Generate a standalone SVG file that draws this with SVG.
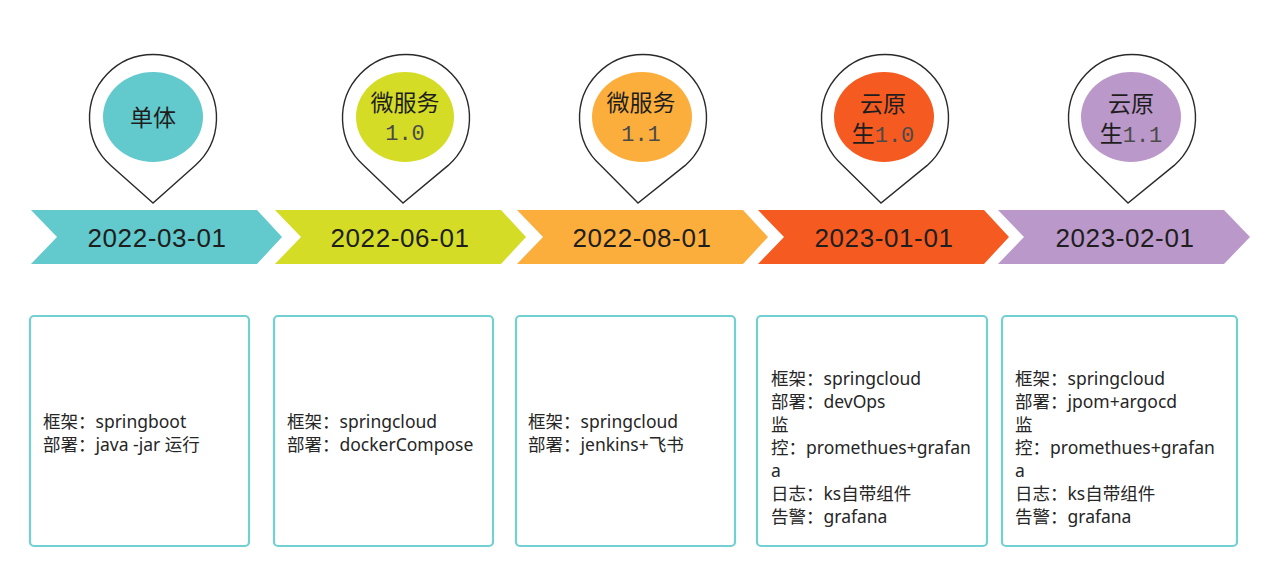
<svg xmlns="http://www.w3.org/2000/svg" width="1280" height="576" viewBox="0 0 1280 576">
<style>
.pin{fill:#fff;stroke:#2a2a2a;stroke-width:1.4}
.date{font-family:"Liberation Sans","Noto Sans",sans-serif;font-size:26px;letter-spacing:0.6px;fill:#1e1e1e;text-anchor:middle}
.lbl{font-family:"Noto Sans CJK SC","Noto Sans",sans-serif;font-size:23px;fill:#1e1e1e;text-anchor:middle}
.mono{font-family:"Liberation Mono",monospace;font-size:22px;fill:#4a4a4a}
.box{fill:#fff;stroke:#72d0d2;stroke-width:2.2}
.txt{font-family:"Noto Sans","Noto Sans CJK SC",sans-serif;font-size:17.5px;fill:#262626}
</style>
<rect width="1280" height="576" fill="#fff"/>
<g id="connectors"></g>
<g id="stage1">
<path d="M31,210 L257,210 L282,237 L257,264 L31,264 L57,237 Z" fill="#62c9cc"/>
<text class="date" x="157" y="247">2022-03-01</text>
<path class="pin" d="M153,203 L110.8,165.4 A63.5,63.5 0 1 1 195.2,165.4 Z"/>
<ellipse cx="153" cy="117" rx="50" ry="45" fill="#62c9cc"/>
<text class="lbl" x="153" y="126">单体</text>
<rect class="box" x="30" y="316" width="219" height="230" rx="4"/>
<text class="txt" x="43" y="428">框架：springboot</text>
<text class="txt" x="43" y="451">部署：java -jar 运行</text>
</g>
<g id="stage2">
<path d="M275,210 L501,210 L526,237 L501,264 L275,264 L301,237 Z" fill="#d5dc26"/>
<text class="date" x="400" y="247">2022-06-01</text>
<path class="pin" d="M403,203 L363.8,165.4 A63.5,63.5 0 1 1 448.2,165.4 Z"/>
<ellipse cx="405" cy="117" rx="49" ry="45" fill="#d5dc26"/>
<text class="lbl" x="405" y="111">微服务</text>
<text class="mono" x="405" y="140" text-anchor="middle">1.0</text>
<rect class="box" x="274" y="316" width="219" height="230" rx="4"/>
<text class="txt" x="287" y="428">框架：springcloud</text>
<text class="txt" x="287" y="451">部署：dockerCompose</text>
</g>
<g id="stage3">
<path d="M517,210 L743,210 L768,237 L743,264 L517,264 L543,237 Z" fill="#fcae3c"/>
<text class="date" x="642" y="247">2022-08-01</text>
<path class="pin" d="M638,203 L600.8,165.4 A63.5,63.5 0 1 1 685.2,165.4 Z"/>
<ellipse cx="642" cy="117" rx="50" ry="45" fill="#fcae3c"/>
<text class="lbl" x="641" y="111">微服务</text>
<text class="mono" x="641" y="141" text-anchor="middle">1.1</text>
<rect class="box" x="516" y="316" width="219" height="230" rx="4"/>
<text class="txt" x="528" y="428">框架：springcloud</text>
<text class="txt" x="528" y="451">部署：jenkins+飞书</text>
</g>
<g id="stage4">
<path d="M758,210 L984,210 L1009,237 L984,264 L758,264 L784,237 Z" fill="#f55b21"/>
<text class="date" x="884" y="247">2023-01-01</text>
<path class="pin" d="M881,203 L842.8,165.4 A63.5,63.5 0 1 1 927.2,165.4 Z"/>
<ellipse cx="884" cy="117" rx="50" ry="45" fill="#f55b21"/>
<text class="lbl" x="883" y="112">云原</text>
<text class="lbl" x="883" y="142">生<tspan class="mono">1.0</tspan></text>
<rect class="box" x="757" y="316" width="230" height="230" rx="4"/>
<text class="txt" x="771" y="385">框架：springcloud</text>
<text class="txt" x="771" y="408">部署：devOps</text>
<text class="txt" x="771" y="431">监</text>
<text class="txt" x="771" y="454">控：promethues+grafan</text>
<text class="txt" x="771" y="477">a</text>
<text class="txt" x="771" y="500">日志：ks自带组件</text>
<text class="txt" x="771" y="523">告警：grafana</text>
</g>
<g id="stage5">
<path d="M998,210 L1224,210 L1250,237 L1224,264 L998,264 L1024,237 Z" fill="#bb98ca"/>
<text class="date" x="1125" y="247">2023-02-01</text>
<path class="pin" d="M1128,203 L1089.8,165.4 A63.5,63.5 0 1 1 1174.2,165.4 Z"/>
<ellipse cx="1131" cy="117" rx="50" ry="45" fill="#bb98ca"/>
<text class="lbl" x="1131" y="112">云原</text>
<text class="lbl" x="1131" y="142">生<tspan class="mono">1.1</tspan></text>
<rect class="box" x="1002" y="316" width="235" height="230" rx="4"/>
<text class="txt" x="1015" y="385">框架：springcloud</text>
<text class="txt" x="1015" y="408">部署：jpom+argocd</text>
<text class="txt" x="1015" y="431">监</text>
<text class="txt" x="1015" y="454">控：promethues+grafan</text>
<text class="txt" x="1015" y="477">a</text>
<text class="txt" x="1015" y="500">日志：ks自带组件</text>
<text class="txt" x="1015" y="523">告警：grafana</text>
</g>
</svg>
